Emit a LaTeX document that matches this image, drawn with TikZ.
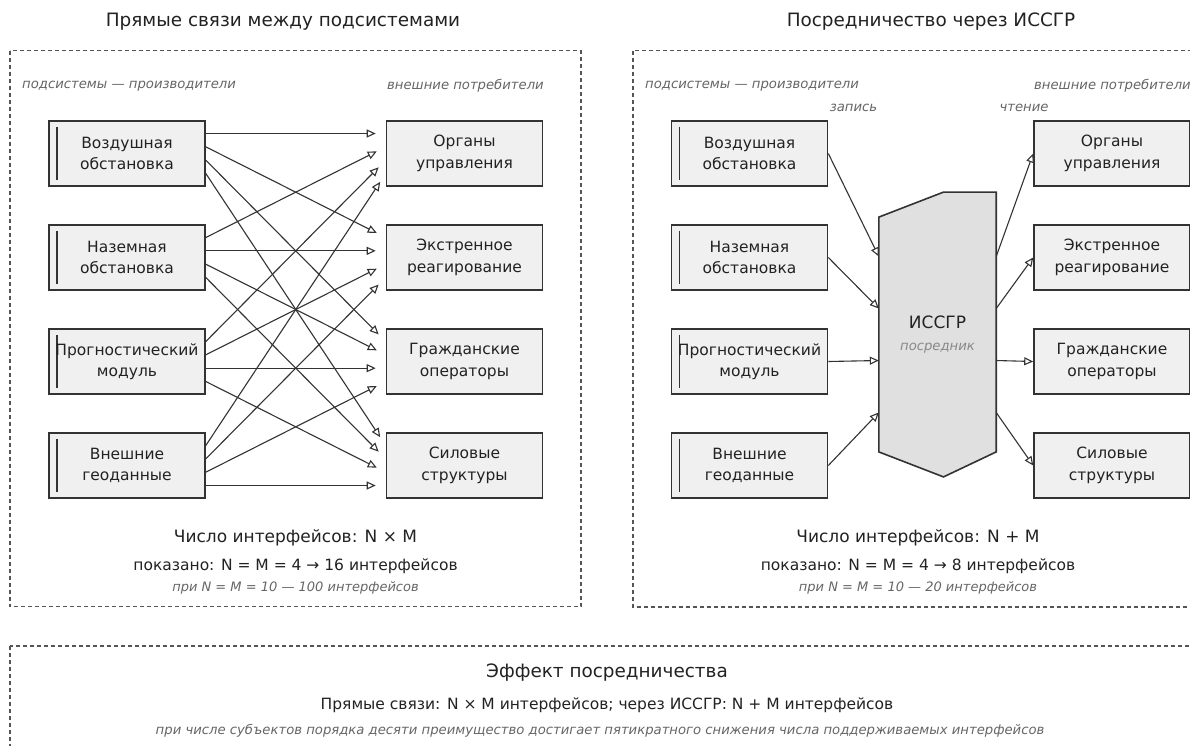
\documentclass[tikz,border=0pt]{standalone}
\usepackage{fontspec}
\setmainfont{DejaVu Sans}
\usetikzlibrary{arrows.meta,calc}
\definecolor{ink}{HTML}{333333}
\definecolor{boxfill}{HTML}{F0F0F0}
\definecolor{hubfill}{HTML}{E0E0E0}
\definecolor{muted}{HTML}{666666}
\definecolor{faint}{HTML}{888888}
\definecolor{txt}{HTML}{222222}
\definecolor{panelline}{HTML}{555555}
\begin{document}
\begin{tikzpicture}[x=1pt,y=-1pt,
  panel/.style={draw=panelline, line width=1.2pt, dash pattern=on 4pt off 3pt},
  sysbox/.style={draw=ink, fill=boxfill, line width=1.6pt, minimum width=156pt, minimum height=65pt,
    align=center, font=\fontsize{15.5}{21.5}\selectfont, text=txt, inner sep=0pt},
  prod/.style={sysbox, path picture={\draw[ink, line width=1.3pt]
      ([xshift=8pt,yshift=-6pt]path picture bounding box.north west) --
      ([xshift=8pt,yshift=6pt]path picture bounding box.south west);}},
  cons/.style={sysbox},
  link/.style={draw=ink, line width=1.1pt, -{Triangle[open,length=9pt,width=8pt]}},
  title/.style={font=\fontsize{18.4}{22}\selectfont, text=txt, inner sep=0pt},
  side/.style={font=\fontsize{13.2}{16}\selectfont\itshape, text=muted, inner sep=0pt},
  big/.style={font=\fontsize{17}{20}\selectfont, text=txt, inner sep=0pt},
  mid/.style={font=\fontsize{15.5}{19}\selectfont, text=txt, inner sep=0pt},
  note/.style={font=\fontsize{13}{15}\selectfont\itshape, text=muted, inner sep=0pt}
]
\useasboundingbox (0,0) rectangle (1190,745);
\clip (0,0) rectangle (1190,745);
\fill[white] (0,0) rectangle (1190,745);

% panels
\draw[panel] (10,50.7) rectangle (581,606.7);
\draw[panel] (633,50.7) rectangle (1203,607);
\draw[panel] (10,646) rectangle (1204,780);

% titles
\node[title] (t1) at (283,21.7) {Прямые связи между подсистемами};
\node[title] (t2) at (931,21.7) {Посредничество через ИССГР};

% side labels
\node[side, anchor=west] (s1) at (22,86) {подсистемы — производители};
\node[side, anchor=west] (s2) at (387,86) {внешние потребители};
\node[side, anchor=west] (s3) at (645,86) {подсистемы — производители};
\node[side, anchor=west] (s4) at (1034,86) {внешние потребители};
\node[side] (wr) at (853.5,108) {запись};
\node[side] (rd) at (1024,108) {чтение};

% left panel boxes
\node[prod] (l1) at (127,153.5) {Воздушная\\обстановка};
\node[prod] (l2) at (127,257.5) {Наземная\\обстановка};
\node[prod] (l3) at (127,361.5) {Прогностический\\модуль};
\node[prod] (l4) at (127,465.5) {Внешние\\геоданные};
\node[cons] (r1) at (464.5,153.5) {Органы\\управления};
\node[cons] (r2) at (464.5,257.5) {Экстренное\\реагирование};
\node[cons] (r3) at (464.5,361.5) {Гражданские\\операторы};
\node[cons] (r4) at (464.5,465.5) {Силовые\\структуры};

\foreach \i in {1,...,4}{
  \foreach \j in {1,...,4}{
    \draw[link, shorten >=10pt] ($(l\i.east)+(0,{(\j-2.5)*13.33})$) -- ($(r\j.west)+(0,{(\i-2.5)*13.33})$);
  }
}

% right panel boxes
\node[prod] (p1) at (749.5,153.5) {Воздушная\\обстановка};
\node[prod] (p2) at (749.5,257.5) {Наземная\\обстановка};
\node[prod] (p3) at (749.5,361.5) {Прогностический\\модуль};
\node[prod] (p4) at (749.5,465.5) {Внешние\\геоданные};
\node[cons] (c1) at (1112,153.5) {Органы\\управления};
\node[cons] (c2) at (1112,257.5) {Экстренное\\реагирование};
\node[cons] (c3) at (1112,361.5) {Гражданские\\операторы};
\node[cons] (c4) at (1112,465.5) {Силовые\\структуры};

% hub
\node[minimum width=117pt, minimum height=284.4pt, inner sep=0pt] (hub) at (937.5,334.5) {};
\draw[ink, fill=hubfill, line width=1.6pt]
  ($(hub.north west)+(0,25)$) -- ($(hub.north)+(6,0)$) -- (hub.north east) --
  ($(hub.south east)+(0,-25)$) -- ($(hub.south)+(6,0)$) -- ($(hub.south west)+(0,-25)$) -- cycle;
\node[big] (hubname) at (937.5,322.7) {ИССГР};
\node[font=\fontsize{13.2}{16}\selectfont\itshape, text=faint, inner sep=0pt] (hubrole) at (937.5,348) {посредник};

\foreach \i/\o in {1/-78,2/-26,3/26,4/78}{
  \draw[link] (p\i.east) -- ($(hub.west)+(0,\o)$);
  \draw[link] ($(hub.east)+(0,\o)$) -- (c\i.west);
}

% counts
\node[big] (n1) at (295.5,537.7) {Число интерфейсов: N × M};
\node[mid] (n2) at (295.5,566.7) {показано: N = M = 4 → 16 интерфейсов};
\node[note] (n3) at (295.5,588) {при N = M = 10 — 100 интерфейсов};
\node[big] (m1) at (918,537.7) {Число интерфейсов: N + M};
\node[mid] (m2) at (918,566.7) {показано: N = M = 4 → 8 интерфейсов};
\node[note] (m3) at (918,588) {при N = M = 10 — 20 интерфейсов};

% bottom
\node[title] (e1) at (607,673) {Эффект посредничества};
\node[mid] (e2) at (607,705) {Прямые связи: N × M интерфейсов; через ИССГР: N + M интерфейсов};
\node[note, font=\fontsize{13.2}{15}\selectfont\itshape] (e3) at (600,731) {при числе субъектов порядка десяти преимущество достигает пятикратного снижения числа поддерживаемых интерфейсов};
\end{tikzpicture}
\end{document}
